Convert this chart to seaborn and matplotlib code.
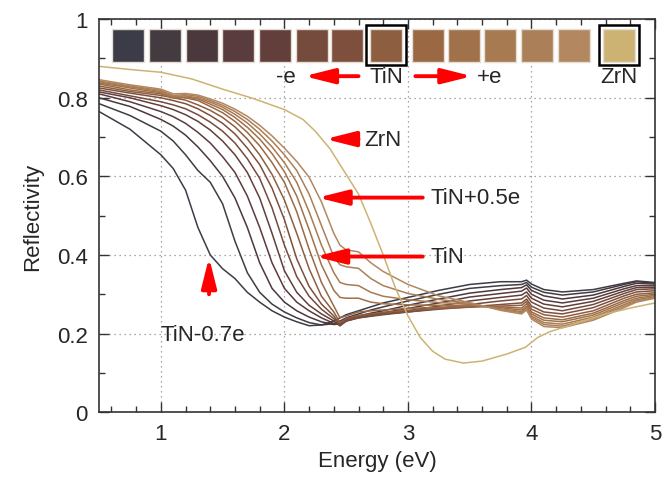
import matplotlib
matplotlib.use("Agg")
import matplotlib.pyplot as plt
from matplotlib.patches import Rectangle
import pandas as pd
import seaborn as sns

# energy grid shared by the TiN family (eV)
energy = [0.5, 0.75, 1.0, 1.1, 1.2, 1.3, 1.4, 1.5, 1.6, 1.7, 1.8, 1.9, 2.0, 2.1, 2.2, 2.3, 2.4, 2.45,
          2.5, 2.6, 2.7, 2.8, 3.0, 3.25, 3.5, 3.75, 3.92, 3.96, 4.0, 4.1, 4.25, 4.5, 4.75, 4.85, 5.0]

# reflectivity of TiN with removed / added charge
r_m07 = [0.765, 0.72, 0.655, 0.62, 0.565, 0.47, 0.40, 0.365, 0.34, 0.305, 0.28, 0.258, 0.242, 0.23,
         0.22, 0.222, 0.232, 0.24, 0.248, 0.258, 0.268, 0.278, 0.292, 0.31, 0.325, 0.332, 0.332, 0.336,
         0.326, 0.312, 0.306, 0.312, 0.328, 0.334, 0.33]
r_m06 = [0.785, 0.755, 0.715, 0.69, 0.655, 0.615, 0.585, 0.53, 0.435, 0.355, 0.305, 0.275, 0.255, 0.24,
         0.228, 0.222, 0.225, 0.232, 0.24, 0.25, 0.26, 0.268, 0.283, 0.30, 0.315, 0.322, 0.325, 0.33,
         0.318, 0.305, 0.298, 0.306, 0.325, 0.332, 0.328]
r_m05 = [0.80, 0.778, 0.745, 0.728, 0.705, 0.675, 0.64, 0.60, 0.545, 0.47, 0.38, 0.315, 0.28, 0.258,
         0.242, 0.23, 0.223, 0.225, 0.235, 0.245, 0.252, 0.258, 0.272, 0.288, 0.303, 0.312, 0.317, 0.324,
         0.31, 0.296, 0.288, 0.298, 0.32, 0.328, 0.326]
r_m04 = [0.81, 0.79, 0.765, 0.752, 0.735, 0.712, 0.685, 0.65, 0.61, 0.55, 0.47, 0.38, 0.315, 0.28,
         0.258, 0.24, 0.226, 0.222, 0.232, 0.242, 0.248, 0.253, 0.264, 0.278, 0.293, 0.302, 0.308, 0.316,
         0.30, 0.285, 0.278, 0.29, 0.314, 0.322, 0.322]
r_m03 = [0.815, 0.80, 0.78, 0.77, 0.757, 0.74, 0.718, 0.69, 0.655, 0.61, 0.545, 0.455, 0.36, 0.305,
         0.272, 0.25, 0.232, 0.22, 0.232, 0.24, 0.245, 0.25, 0.258, 0.27, 0.283, 0.292, 0.298, 0.306,
         0.29, 0.275, 0.268, 0.282, 0.308, 0.317, 0.318]
r_m02 = [0.82, 0.805, 0.79, 0.782, 0.772, 0.757, 0.738, 0.715, 0.685, 0.645, 0.595, 0.52, 0.425, 0.345,
         0.295, 0.262, 0.238, 0.22, 0.232, 0.24, 0.244, 0.248, 0.255, 0.264, 0.274, 0.283, 0.288, 0.297,
         0.28, 0.265, 0.258, 0.274, 0.302, 0.312, 0.314]
r_m01 = [0.825, 0.812, 0.80, 0.793, 0.785, 0.772, 0.755, 0.735, 0.708, 0.672, 0.63, 0.57, 0.49, 0.39,
         0.32, 0.275, 0.245, 0.222, 0.234, 0.242, 0.246, 0.25, 0.255, 0.262, 0.268, 0.274, 0.278, 0.288,
         0.27, 0.255, 0.25, 0.266, 0.296, 0.306, 0.309]
r_0 = [0.83, 0.816, 0.806, 0.80, 0.794, 0.782, 0.768, 0.75, 0.726, 0.695, 0.655, 0.605, 0.54, 0.455,
       0.365, 0.295, 0.255, 0.228, 0.238, 0.246, 0.25, 0.254, 0.259, 0.264, 0.267, 0.27, 0.272, 0.282,
       0.262, 0.248, 0.242, 0.258, 0.29, 0.30, 0.304]
r_p01 = [0.835, 0.82, 0.81, 0.80, 0.80, 0.793, 0.778, 0.762, 0.74, 0.712, 0.678, 0.635, 0.585, 0.51,
         0.415, 0.33, 0.27, 0.24, 0.245, 0.255, 0.258, 0.26, 0.264, 0.267, 0.27, 0.268, 0.265, 0.276,
         0.255, 0.24, 0.235, 0.252, 0.284, 0.295, 0.30]
r_p02 = [0.838, 0.825, 0.813, 0.80, 0.802, 0.797, 0.784, 0.77, 0.75, 0.725, 0.695, 0.658, 0.612, 0.55,
         0.465, 0.375, 0.31, 0.292, 0.29, 0.29, 0.28, 0.276, 0.273, 0.272, 0.272, 0.266, 0.26, 0.27,
         0.25, 0.234, 0.23, 0.247, 0.279, 0.29, 0.297]
r_p03 = [0.84, 0.828, 0.816, 0.803, 0.805, 0.80, 0.789, 0.776, 0.758, 0.736, 0.708, 0.675, 0.635, 0.585,
         0.51, 0.425, 0.355, 0.33, 0.325, 0.322, 0.305, 0.295, 0.286, 0.279, 0.275, 0.263, 0.256, 0.266,
         0.245, 0.228, 0.224, 0.242, 0.274, 0.286, 0.294]
r_p04 = [0.843, 0.83, 0.819, 0.806, 0.808, 0.804, 0.793, 0.781, 0.765, 0.745, 0.72, 0.69, 0.655, 0.615,
         0.555, 0.475, 0.395, 0.375, 0.37, 0.366, 0.34, 0.322, 0.302, 0.287, 0.277, 0.261, 0.253, 0.263,
         0.241, 0.223, 0.219, 0.238, 0.27, 0.283, 0.292]
r_p05 = [0.846, 0.833, 0.822, 0.81, 0.811, 0.807, 0.797, 0.786, 0.771, 0.753, 0.73, 0.703, 0.672, 0.638,
         0.598, 0.535, 0.455, 0.425, 0.413, 0.408, 0.38, 0.358, 0.325, 0.296, 0.279, 0.259, 0.25, 0.26,
         0.237, 0.218, 0.215, 0.234, 0.266, 0.28, 0.29]

tin_series = [r_m07, r_m06, r_m05, r_m04, r_m03, r_m02, r_m01, r_0, r_p01, r_p02, r_p03, r_p04, r_p05]
tin_names = ["TiN-0.7e", "TiN-0.6e", "TiN-0.5e", "TiN-0.4e", "TiN-0.3e", "TiN-0.2e", "TiN-0.1e",
             "TiN", "TiN+0.1e", "TiN+0.2e", "TiN+0.3e", "TiN+0.4e", "TiN+0.5e"]
tin_colors = ["#3b3c48", "#433b40", "#4b383c", "#5a3b3e", "#623f3b", "#744b3c", "#7f4f3d",
              "#8d5e40", "#9a6943", "#a0714a", "#a77a51", "#ab7f57", "#b3875f"]

# ZrN reference curve
zrn_energy = [0.5, 0.75, 1.0, 1.25, 1.5, 1.75, 2.0, 2.15, 2.25, 2.37, 2.5, 2.6, 2.7, 2.8, 2.9, 3.0,
              3.1, 3.2, 3.3, 3.45, 3.6, 3.8, 3.95, 4.05, 4.15, 4.35, 4.6, 4.8, 5.0]
zrn_refl = [0.88, 0.872, 0.865, 0.848, 0.822, 0.798, 0.77, 0.745, 0.715, 0.67, 0.605, 0.555, 0.48, 0.40,
            0.315, 0.245, 0.19, 0.155, 0.135, 0.125, 0.13, 0.148, 0.165, 0.19, 0.205, 0.225, 0.25,
            0.265, 0.278]
zrn_color = "#cdb373"

# long-form table for seaborn
rows = []
for name, vals in zip(tin_names, tin_series):
    for e, r in zip(energy, vals):
        rows.append((name, e, r))
for e, r in zip(zrn_energy, zrn_refl):
    rows.append(("ZrN", e, r))
df = pd.DataFrame(rows, columns=["sample", "energy", "refl"])
palette = dict(zip(tin_names, tin_colors))
palette["ZrN"] = zrn_color

sns.set_style("ticks")
plt.rcParams["font.family"] = ["Liberation Sans", "DejaVu Sans"]
plt.rcParams["font.size"] = 16

fig = plt.figure(figsize=(6.65, 4.81), dpi=100)
ax = fig.add_axes([0.149, 0.141, 0.836, 0.817])

sns.lineplot(data=df, x="energy", y="refl", hue="sample", hue_order=tin_names + ["ZrN"],
             palette=palette, estimator=None, sort=False, legend=False, lw=1.1, ax=ax)

ax.set_xlim(0.5, 5)
ax.set_ylim(0, 1)
ax.set_xticks([1, 2, 3, 4, 5])
ax.set_xticks([0.6, 0.8, 1.2, 1.4, 1.6, 1.8, 2.2, 2.4, 2.6, 2.8, 3.2, 3.4, 3.6, 3.8,
               4.2, 4.4, 4.6, 4.8], minor=True)
ax.set_yticks([0, 0.2, 0.4, 0.6, 0.8, 1])
ax.set_yticklabels(["0", "0.2", "0.4", "0.6", "0.8", "1"])
ax.set_yticks([0.1, 0.3, 0.5, 0.7, 0.9], minor=True)
ax.tick_params(which="both", direction="in", top=True, right=True, color="#333333", labelsize=16)
ax.tick_params(which="major", length=7, width=1, pad=8)
ax.tick_params(which="minor", length=4, width=1)
ax.grid(True, which="major", linestyle=(0, (1, 3)), color="#8c8c8c", lw=0.9)
for s in ax.spines.values():
    s.set_color("#333333")
    s.set_linewidth(1.2)
ax.set_xlabel("Energy (eV)", fontsize=16)
ax.set_ylabel("Reflectivity", fontsize=16, labelpad=10)

# colour swatches along the top
swatch_x = [0.737, 1.034, 1.331, 1.627, 1.924, 2.221, 2.509, 2.822, 3.162, 3.457, 3.747, 4.044, 4.343, 4.707]
sw_w, sw_h, sw_y = 0.26, 0.084, 0.934
for cx, col in zip(swatch_x, tin_colors + [zrn_color]):
    ax.add_patch(Rectangle((cx - sw_w / 2, sw_y - sw_h / 2), sw_w, sw_h, facecolor=col,
                           edgecolor="#e6ddd4", lw=1, zorder=4))
for cx in (swatch_x[7], swatch_x[13]):
    ax.add_patch(Rectangle((cx - 0.16, sw_y - 0.05), 0.32, 0.1, facecolor="none",
                           edgecolor="black", lw=1.8, zorder=5))

arrow = dict(arrowstyle="-|>,head_length=1.2,head_width=0.3", color="red", lw=2.8,
             mutation_scale=15, shrinkA=0, shrinkB=0)
yl = 0.855
ax.text(swatch_x[7], yl, "TiN", ha="center", va="center")
ax.text(swatch_x[13], yl, "ZrN", ha="center", va="center")
ax.text(2.01, yl, "-e", ha="center", va="center")
ax.text(3.66, yl, "+e", ha="center", va="center")
ax.annotate("", xy=(2.16, yl), xytext=(2.60, yl), arrowprops=arrow)
ax.annotate("", xy=(3.52, yl), xytext=(3.06, yl), arrowprops=arrow)

ax.annotate("", xy=(2.33, 0.695), xytext=(2.60, 0.695), arrowprops=arrow)
ax.text(2.65, 0.695, "ZrN", ha="left", va="center")
ax.annotate("", xy=(2.27, 0.546), xytext=(3.12, 0.546), arrowprops=arrow)
ax.text(3.18, 0.546, "TiN+0.5e", ha="left", va="center")
ax.annotate("", xy=(2.25, 0.396), xytext=(3.12, 0.396), arrowprops=arrow)
ax.text(3.18, 0.396, "TiN", ha="left", va="center")
ax.annotate("", xy=(1.39, 0.394), xytext=(1.39, 0.300), arrowprops=arrow)
ax.text(1.34, 0.198, "TiN-0.7e", ha="center", va="center")

fig.savefig("out.png", dpi=100)
